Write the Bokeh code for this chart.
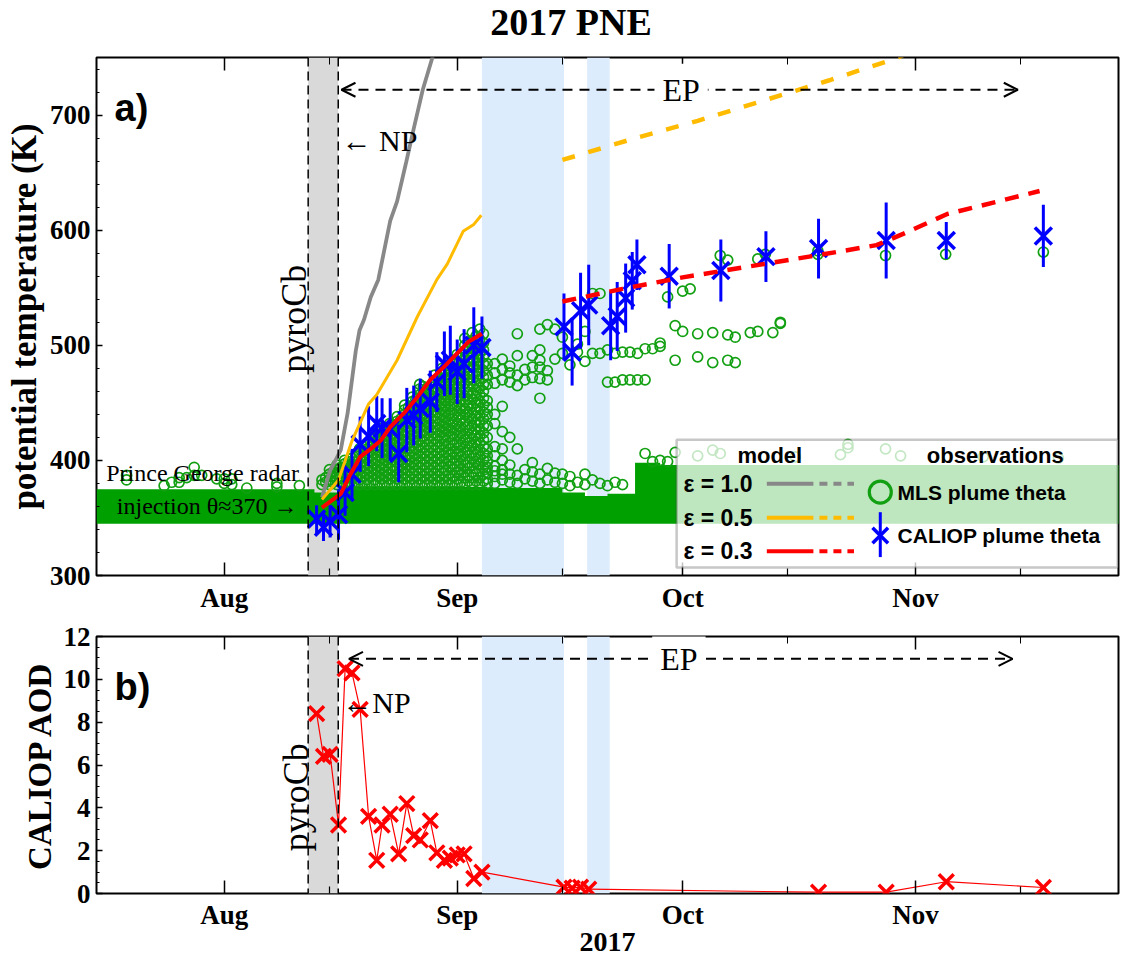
import math
import pandas as pd
from bokeh.plotting import figure
from bokeh.layouts import column
from bokeh.models import (Range1d, FixedTicker, DatetimeAxis, Span, Div,
                          BoxAnnotation, Label, Arrow, OpenHead)
from bokeh.embed import file_html
from bokeh.resources import INLINE

# ------------------------------------------------------------------ data
months = ["Aug", "Sep", "Oct", "Nov"]
month_starts = ["2017-08-01", "2017-09-01", "2017-10-01", "2017-11-01"]
mid_months = ["2017-08-15", "2017-09-15", "2017-10-15", "2017-11-15"]
theta_ticks = [300, 400, 500, 600, 700]
aod_ticks = [0, 2, 4, 6, 8, 10, 12]

pyrocb_period = ["2017-08-12 04:00", "2017-08-16 04:00"]
gap_periods = [["2017-09-04 07:00", "2017-09-15 05:00"],
               ["2017-09-18 07:00", "2017-09-21 07:00"]]

# MLS: densely populated theta band (step after each date)
band_date = ["2017-07-15", "2017-08-13", "2017-08-17", "2017-09-05", "2017-09-15",
             "2017-09-18", "2017-09-21", "2017-09-24 16:00", "2017-09-28", "2017-11-30"]
band_top = [375, 372, 377, 376, 372, 369, 371, 398, 396, 396]
band_bottom = 345

# MLS: individual samples above the dense band (time, thetas)
mls_day = [
    "2017-07-19", "2017-07-24", "2017-07-25", "2017-07-26", "2017-07-27", "2017-07-28",
    "2017-07-29", "2017-07-31", "2017-08-01", "2017-08-02", "2017-08-04", "2017-08-08",
    "2017-08-11",
    "2017-08-14 00:00", "2017-08-14 12:00", "2017-08-15 00:00", "2017-08-15 12:00",
    "2017-08-16 00:00", "2017-08-16 12:00", "2017-08-17 00:00", "2017-08-17 12:00",
    "2017-08-18 00:00", "2017-08-18 12:00", "2017-08-19 00:00", "2017-08-19 12:00",
    "2017-08-20 00:00", "2017-08-20 12:00", "2017-08-21 00:00", "2017-08-21 12:00",
    "2017-08-22 00:00", "2017-08-22 12:00", "2017-08-23 00:00", "2017-08-23 12:00",
    "2017-08-24 00:00", "2017-08-24 12:00", "2017-08-25 00:00", "2017-08-25 12:00",
    "2017-08-26 00:00", "2017-08-26 12:00", "2017-08-27 00:00", "2017-08-27 12:00",
    "2017-08-28 00:00", "2017-08-28 12:00", "2017-08-29 00:00", "2017-08-29 12:00",
    "2017-08-30 00:00", "2017-08-30 12:00", "2017-08-31 00:00", "2017-08-31 12:00",
    "2017-09-01 00:00", "2017-09-01 12:00", "2017-09-02 00:00", "2017-09-02 12:00",
    "2017-09-03 00:00", "2017-09-03 12:00", "2017-09-04 00:00", "2017-09-04 12:00",
    "2017-09-05", "2017-09-06", "2017-09-07", "2017-09-08", "2017-09-09", "2017-09-10",
    "2017-09-11", "2017-09-12", "2017-09-13", "2017-09-14",
    "2017-09-15", "2017-09-16", "2017-09-17", "2017-09-18", "2017-09-19", "2017-09-20",
    "2017-09-21", "2017-09-22", "2017-09-23", "2017-09-24", "2017-09-25", "2017-09-26",
    "2017-09-27", "2017-09-28", "2017-09-29", "2017-09-30",
    "2017-10-01", "2017-10-02", "2017-10-03", "2017-10-05", "2017-10-06", "2017-10-07",
    "2017-10-08", "2017-10-10", "2017-10-11", "2017-10-12", "2017-10-13", "2017-10-14",
    "2017-10-16", "2017-10-19", "2017-10-22", "2017-10-23", "2017-10-28", "2017-10-30",
    "2017-11-05", "2017-11-10", "2017-11-18", "2017-11-20",
]
mls_theta = [
    [387, 383], [378], [381], [385, 381], [385], [394, 387],
    [387], [384], [384, 380], [384, 379], [376], [380, 377],
    [378],
    [379, 383], [381, 385],
    [379, 383, 388, 392], [381, 386, 390],
    [379, 383, 388, 392, 396], [381, 386, 390, 394],
    [379, 384, 388, 393, 397, 400], [381, 386, 391, 395, 399],
    [379, 384, 388, 393, 397, 402], [381, 386, 390, 395, 399, 404],
    [379, 383, 388, 392, 397, 401, 406, 410], [381, 386, 390, 395, 399, 404, 408],
    [379, 383, 388, 392, 397, 401, 406, 410, 414], [381, 386, 390, 395, 399, 404, 408, 412, 416],
    [379, 383, 388, 392, 397, 401, 406, 410, 415, 419, 423],
    [381, 386, 390, 395, 399, 404, 408, 413, 417, 421],
    [379, 384, 388, 393, 397, 402, 406, 411, 415, 420, 424, 428],
    [381, 386, 390, 395, 400, 404, 409, 413, 418, 422, 426],
    [379, 384, 388, 393, 398, 402, 407, 411, 416, 420, 425, 429, 432],
    [381, 386, 391, 395, 400, 404, 409, 414, 418, 423, 427, 431],
    [379, 384, 388, 393, 398, 402, 407, 412, 416, 421, 425, 430, 434, 438],
    [381, 386, 391, 395, 400, 405, 409, 414, 418, 423, 428, 432, 436],
    [379, 384, 389, 393, 398, 403, 408, 412, 417, 422, 426, 431, 436, 440, 444, 448],
    [381, 386, 391, 396, 400, 405, 410, 415, 419, 424, 429, 433, 438, 442, 446],
    [379, 384, 389, 394, 398, 403, 408, 413, 418, 422, 427, 432, 437, 441, 446, 451, 455],
    [381, 386, 391, 396, 401, 405, 410, 415, 420, 425, 429, 434, 439, 444, 448, 453],
    [379, 384, 389, 394, 399, 404, 409, 413, 418, 423, 428, 433, 438, 443, 448, 452, 457, 462, 466],
    [381, 386, 391, 396, 401, 406, 411, 416, 421, 425, 430, 435, 440, 445, 450, 455, 459, 464],
    [379, 384, 389, 394, 399, 404, 409, 414, 419, 424, 429, 434, 439, 444, 449, 454, 459, 463],
    [381, 386, 391, 396, 401, 406, 411, 416, 421, 426, 431, 436, 441, 446, 451, 456, 461],
    [379, 384, 389, 394, 399, 404, 409, 414, 419, 424, 429, 434, 439, 444, 449, 454, 459, 464,
     469, 474],
    [381, 386, 391, 396, 401, 406, 411, 416, 421, 426, 431, 436, 441, 446, 451, 456, 461, 466, 471],
    [379, 384, 389, 394, 399, 404, 409, 414, 420, 425, 430, 435, 440, 445, 450, 455, 460, 465,
     470, 475, 480],
    [381, 386, 391, 397, 402, 407, 412, 417, 422, 427, 432, 437, 442, 447, 452, 457, 462, 467,
     472, 477],
    [379, 384, 389, 395, 400, 405, 410, 415, 421, 426, 431, 436, 441, 447, 452, 457, 462, 467,
     472, 478, 482, 486],
    [381, 386, 392, 397, 402, 407, 413, 418, 423, 428, 433, 439, 444, 449, 454, 459, 465, 470,
     475, 480, 484],
    [379, 384, 390, 395, 400, 406, 411, 416, 422, 427, 432, 438, 443, 448, 454, 459, 464, 470,
     475, 480, 486, 492],
    [381, 387, 392, 397, 403, 408, 413, 419, 424, 429, 435, 440, 445, 451, 456, 461, 467, 472,
     477, 483, 489],
    [379, 385, 390, 396, 401, 407, 412, 418, 423, 429, 434, 440, 445, 451, 456, 462, 467, 473,
     478, 484, 489, 495, 500, 506],
    [382, 387, 393, 398, 404, 409, 415, 420, 426, 431, 437, 442, 448, 453, 459, 464, 470, 475,
     481, 486, 492, 497, 503],
    [379, 385, 390, 396, 402, 407, 413, 419, 424, 430, 436, 441, 447, 453, 458, 464, 470, 475,
     481, 487, 492, 498, 504, 511],
    [382, 388, 393, 399, 405, 410, 416, 422, 427, 433, 439, 444, 450, 456, 461, 467, 473, 478,
     484, 490, 495, 501, 508],
    [379, 385, 391, 397, 403, 409, 415, 421, 427, 433, 439, 445, 451, 457, 463, 469, 475, 481,
     487, 493, 499, 505, 514],
    [382, 388, 394, 400, 406, 412, 418, 424, 430, 436, 442, 448, 454, 460, 466, 472, 478, 484,
     490, 496, 502, 510],
    [380, 384, 389, 394, 399, 404, 410, 420, 430, 440, 446, 452, 466, 474, 484],
    [380, 386, 391, 395, 404, 412, 432, 440, 467, 476, 484],
    [383, 388, 392, 400, 410, 425, 447, 470, 479, 488],
    [381, 388, 396, 420, 468, 476, 482],
    [380, 387, 410, 465, 474, 491, 510],
    [384, 392, 470, 479],
    [382, 390, 398, 472, 481, 491],
    [380, 388, 454, 471, 481, 487, 496, 514],
    [383, 393, 470, 478, 518],
    [381, 389, 488, 514],
    [380, 388, 493, 507],
    [378, 386, 483],
    [381, 494, 501],
    [379, 388, 486, 512],
    [383, 493, 545],
    [380, 493, 545],
    [378, 468, 496],
    [381, 468, 493],
    [379, 470, 494],
    [470, 494],
    [470, 493],
    [406, 470, 497],
    [399, 497],
    [400, 499, 502],
    [542, 399],
    [517, 487, 407],
    [512, 547],
    [549],
    [510, 490, 404],
    [511, 485, 409],
    [578, 406],
    [574, 509, 487],
    [507, 485],
    [511],
    [575, 512],
    [579],
    [511],
    [519, 520],
    [403],
    [579, 582],
    [405],
    [414, 411],
    [578, 410],
    [404],
    [579],
    [403],
    [581],
    [402],
]

# model: potential temperature of plume for several entrainment factors
m10_date = ["2017-08-14 00:00", "2017-08-15 02:00", "2017-08-16 12:00", "2017-08-17 10:00",
            "2017-08-18 12:00", "2017-08-19 00:00", "2017-08-19 14:00", "2017-08-20 12:00",
            "2017-08-21 12:00", "2017-08-23 02:00", "2017-08-24 00:00", "2017-08-25 05:00",
            "2017-08-26 05:00", "2017-08-27 10:00", "2017-08-28 19:00"]
m10_theta = [368, 391, 409, 441, 495, 513, 522, 542, 557, 608, 625, 659, 688, 722, 752]

m05_date = ["2017-08-14 00:00", "2017-08-16 05:00", "2017-08-18 00:00", "2017-08-20 05:00",
            "2017-08-21 07:00", "2017-08-24 00:00", "2017-08-26 17:00", "2017-08-29 07:00",
            "2017-08-30 17:00", "2017-09-01 19:00", "2017-09-03 05:00", "2017-09-04 05:00"]
m05_theta = [366, 383, 417, 449, 457, 487, 525, 557, 571, 599, 605, 613]
m05x_date = ["2017-09-15 00:00", "2017-09-24 05:00", "2017-10-03 00:00", "2017-10-11 12:00",
             "2017-10-20 10:00", "2017-10-29 07:00", "2017-10-31 00:00"]
m05x_theta = [661, 679, 695, 712, 730, 749, 754]

m03_date = ["2017-08-14 00:00", "2017-08-16 12:00", "2017-08-17 19:00", "2017-08-19 02:00",
            "2017-08-20 12:00", "2017-08-21 19:00", "2017-08-23 02:00", "2017-08-24 22:00",
            "2017-08-26 17:00", "2017-08-28 10:00", "2017-08-30 05:00", "2017-09-01 00:00",
            "2017-09-02 12:00", "2017-09-04 07:00"]
m03_theta = [359, 371, 388, 403, 410, 417, 429, 441, 455, 470, 481, 493, 503, 510]
m03x_date = ["2017-09-15 00:00", "2017-09-23 00:00", "2017-10-01 00:00", "2017-10-12 05:00",
             "2017-10-19 17:00", "2017-10-26 19:00", "2017-10-30 10:00", "2017-11-05 05:00",
             "2017-11-17 12:00"]
m03x_theta = [538, 549, 559, 571, 579, 587, 597, 614, 634]

# CALIOP plume theta with uncertainty
cal_date = ["2017-08-13 07:00", "2017-08-14 05:00", "2017-08-15 02:00", "2017-08-16 05:00",
            "2017-08-17 02:00", "2017-08-18 00:00", "2017-08-19 02:00", "2017-08-20 05:00",
            "2017-08-21 07:00", "2017-08-22 00:00", "2017-08-23 02:00", "2017-08-24 05:00",
            "2017-08-25 07:00", "2017-08-26 05:00", "2017-08-27 02:00", "2017-08-28 10:00",
            "2017-08-29 07:00", "2017-08-30 07:00", "2017-08-31 02:00", "2017-09-01 00:00",
            "2017-09-01 22:00", "2017-09-03 05:00", "2017-09-04 07:00",
            "2017-09-15 05:00", "2017-09-16 07:00", "2017-09-17 10:00", "2017-09-18 12:00",
            "2017-09-21 10:00", "2017-09-22 07:00", "2017-09-23 10:00", "2017-09-24 07:00",
            "2017-09-24 22:00", "2017-09-29 05:00", "2017-10-06 02:00", "2017-10-12 02:00",
            "2017-10-19 02:00", "2017-10-28 02:00", "2017-11-05 02:00", "2017-11-18 00:00"]
cal_theta = [349, 342, 347, 353, 372, 388, 414, 421, 432, 428, 427, 406, 435, 439, 445, 451,
             468, 484, 487, 477, 484, 500, 498,
             516, 494, 530, 535, 517, 525, 541, 556, 570, 560, 565, 577, 584, 591, 591, 595]
cal_err = [12, 12, 14, 22, 20, 22, 24, 26, 24, 26, 27, 25, 28, 26, 26, 27,
           26, 28, 30, 28, 30, 33, 27,
           29, 29, 33, 35, 30, 30, 30, 25, 22, 28, 27, 22, 26, 33, 16, 27]

# CALIOP AOD
aod_date = ["2017-08-13 07:00", "2017-08-14 05:00", "2017-08-15 02:00", "2017-08-16 05:00",
            "2017-08-17 02:00", "2017-08-18 00:00", "2017-08-19 02:00", "2017-08-20 05:00",
            "2017-08-21 07:00", "2017-08-22 00:00", "2017-08-23 02:00", "2017-08-24 05:00",
            "2017-08-25 07:00", "2017-08-26 05:00", "2017-08-27 02:00", "2017-08-28 10:00",
            "2017-08-29 07:00", "2017-08-30 07:00", "2017-08-31 02:00", "2017-09-01 00:00",
            "2017-09-01 22:00", "2017-09-03 05:00", "2017-09-04 07:00",
            "2017-09-15 05:00", "2017-09-16 07:00", "2017-09-17 10:00", "2017-09-18 12:00",
            "2017-10-19 02:00", "2017-10-28 02:00", "2017-11-05 02:00", "2017-11-18 00:00"]
aod_value = [8.4, 6.4, 6.5, 3.2, 10.5, 10.3, 8.6, 3.6, 1.55, 3.2, 3.7, 1.85, 4.2, 2.7, 2.5,
             3.4, 1.9, 1.55, 1.65, 1.8, 1.85, 0.7, 1.0,
             0.3, 0.25, 0.3, 0.2, 0.06, 0.06, 0.55, 0.28]

# ------------------------------------------------------------------ helpers
SERIF = "Liberation Serif"
SANS = "Liberation Sans"
GREEN = "#12a012"
BAND_GREEN = "#00a000"
BLUE = "#0000ff"
RED = "#ff0000"
GRAY = "#888888"
YELLOW = "#ffbb00"


def ms(s):
    return pd.Timestamp(s).value / 1e6


DAY = 86400000.0
X0 = ms("2017-07-15")
NDAYS = 136.0


def D(d):
    return X0 + d * DAY


def lab(p, x, y, text, size, font=SERIF, bold=False, **kw):
    p.add_layout(Label(x=x, y=y, text=text, text_font=font, text_font_size=size,
                       text_font_style="bold" if bold else "normal", text_color="black", **kw))


def style(p, yticks, yminor, ylabel, ylabel_size):
    p.xgrid.visible = False
    p.ygrid.visible = False
    p.outline_line_color = "black"
    p.outline_line_width = 2
    xt = FixedTicker(ticks=[ms(s) for s in month_starts], minor_ticks=[ms(s) for s in mid_months])
    yt = FixedTicker(ticks=yticks, minor_ticks=yminor)
    xa = p.below[0]
    xa.ticker = xt
    xa.major_label_overrides = {ms(s): m for s, m in zip(month_starts, months)}
    ya = p.left[0]
    ya.ticker = yt
    for ax in (xa, ya):
        ax.axis_line_color = None
        ax.major_tick_out = 0
        ax.minor_tick_out = 0
        ax.major_tick_line_width = 1.5
        ax.minor_tick_line_width = 1.2
        ax.major_label_text_font = SERIF
        ax.major_label_text_font_style = "bold"
        ax.major_label_text_font_size = "27px"
        ax.major_label_text_color = "black"
        ax.axis_label_text_font = SERIF
        ax.axis_label_text_font_style = "bold"
        ax.axis_label_text_color = "black"
    xa.major_tick_in = 13
    xa.minor_tick_in = 7
    xa.major_label_standoff = 7
    ya.major_tick_in = 6
    ya.minor_tick_in = 3
    ya.major_label_standoff = 6
    ya.axis_label = ylabel
    ya.axis_label_text_font_size = ylabel_size
    ya.axis_label_standoff = 3
    top = DatetimeAxis(ticker=xt, major_label_overrides={ms(s): "" for s in month_starts},
                       major_label_text_font_size="0px", major_label_standoff=0,
                       major_tick_in=13, minor_tick_in=7, major_tick_out=0, minor_tick_out=0,
                       major_tick_line_width=1.5, axis_line_color=None)
    p.add_layout(top, "above")
    # shaded periods
    p.add_layout(BoxAnnotation(left=ms(pyrocb_period[0]), right=ms(pyrocb_period[1]),
                               fill_color="#d9d9d9", fill_alpha=1, line_color=None, level="underlay"))
    for a, b in gap_periods:
        p.add_layout(BoxAnnotation(left=ms(a), right=ms(b), fill_color="#ddecfc",
                                   fill_alpha=1, line_color=None, level="underlay"))
    for s in pyrocb_period:
        p.add_layout(Span(location=ms(s), dimension="height", line_color="black",
                          line_width=1.5, line_dash="9 5"))
    return xa


x_range = Range1d(X0, X0 + NDAYS * DAY)

# ------------------------------------------------------------------ title
title = Div(text="2017 PNE", width=1120, height=40,
            styles={"font-family": "'Liberation Serif', serif", "font-size": "38px",
                    "font-weight": "bold", "color": "black", "text-align": "center",
                    "text-indent": "22px", "line-height": "44px", "margin": "0",
                    "white-space": "nowrap"})

# ------------------------------------------------------------------ panel a
p1 = figure(width=1120, height=575, x_axis_type="datetime", x_range=x_range,
            y_range=Range1d(300, 750), output_backend="svg", toolbar_location=None,
            min_border_left=96, min_border_right=2, min_border_top=17, min_border_bottom=40)
style(p1, theta_ticks, [v for v in range(320, 750, 20) if v % 100],
      "potential temperature (K)", "35px")

band_x = [ms(s) for s in band_date]
p1.varea_step(x=band_x, y1=[band_bottom] * len(band_x), y2=band_top, step_mode="after",
              fill_color=BAND_GREEN)
mls_x, mls_y = [], []
for day, col in zip(mls_day, mls_theta):
    for th in col:
        mls_x.append(ms(day))
        mls_y.append(th)
p1.scatter(mls_x, mls_y, marker="circle", size=10, fill_color=None, line_color=GREEN,
           line_width=1.7)

cx = [ms(s) for s in cal_date]
p1.segment(x0=cx, y0=[t - e for t, e in zip(cal_theta, cal_err)], x1=cx,
           y1=[t + e for t, e in zip(cal_theta, cal_err)], line_color=BLUE, line_width=3)
p1.scatter(cx, cal_theta, marker="x", size=24, line_color=BLUE, line_width=3.5)

p1.line([ms(s) for s in m10_date], m10_theta, line_color=GRAY, line_width=3.8)
p1.line([ms(s) for s in m05_date], m05_theta, line_color=YELLOW, line_width=3)
p1.line([ms(s) for s in m05x_date], m05x_theta, line_color=YELLOW, line_width=4.5, line_dash="13 14")
p1.line([ms(s) for s in m03_date], m03_theta, line_color=RED, line_width=4)
p1.line([ms(s) for s in m03x_date], m03x_theta, line_color=RED, line_width=4.5, line_dash="14 10")

p1.add_layout(Arrow(x_start=D(32.6), y_start=722, x_end=D(122.6), y_end=722,
                    start=OpenHead(size=14, line_width=2), end=OpenHead(size=14, line_width=2),
                    line_width=2, line_dash="10 7"))
lab(p1, D(77.8), 722, "EP", "32px", text_align="center", text_baseline="middle",
    background_fill_color="white", padding=8)
lab(p1, D(32.6), 678, "← NP", "30px", text_baseline="middle")
lab(p1, D(26.3), 523, "pyroCb", "36px", angle=math.pi / 2, text_align="center",
    text_baseline="middle")
lab(p1, D(1.3), 389, "Prince George radar", "24px", text_baseline="middle")
lab(p1, D(2.7), 360, "injection θ≈370 →", "24px", text_baseline="middle")
lab(p1, D(2.4), 706, "a)", "38px", font=SANS, bold=True, text_baseline="alphabetic")

# legend
p1.add_layout(BoxAnnotation(left=D(77.2), right=D(135.9), bottom=307, top=418,
                            fill_color="white", fill_alpha=0.75, line_color="#444444",
                            line_width=2.5))
for txt, xc in (("model", 89.6), ("observations", 119.6)):
    lab(p1, D(xc), 404, txt, "22px", font=SANS, bold=True, text_align="center",
        text_baseline="middle")
for txt, yy, col in (("ε = 1.0", 379.7, GRAY), ("ε = 0.5", 350.2, YELLOW), ("ε = 0.3", 321.1, RED)):
    lab(p1, D(78.1), yy, txt, "23px", font=SANS, bold=True, text_baseline="middle")
    p1.line([D(89.2), D(95.4)], [yy, yy], line_color=col, line_width=4, level="overlay")
    p1.line([D(96.2), D(100.8)], [yy, yy], line_color=col, line_width=4, line_dash="8 6",
            level="overlay")
p1.scatter([D(104.3)], [372.4], marker="circle", size=22, fill_color=None, line_color=GREEN,
           line_width=3.2, level="overlay")
p1.segment(x0=[D(104.3)], y0=[316], x1=[D(104.3)], y1=[355], line_color=BLUE, line_width=3,
           level="overlay")
p1.scatter([D(104.3)], [334.8], marker="x", size=22, line_color=BLUE, line_width=3.5,
           level="overlay")
lab(p1, D(106.6), 372.4, "MLS plume theta", "21px", font=SANS, bold=True, text_baseline="middle")
lab(p1, D(106.6), 334.8, "CALIOP plume theta", "21px", font=SANS, bold=True,
    text_baseline="middle")

# ------------------------------------------------------------------ panel b
p2 = figure(width=1120, height=341, x_axis_type="datetime", x_range=x_range,
            y_range=Range1d(0, 12), output_backend="svg", toolbar_location=None,
            min_border_left=96, min_border_right=2, min_border_top=21, min_border_bottom=63)
xa2 = style(p2, aod_ticks, [v / 2 for v in range(1, 24) if v % 4], "CALIOP AOD", "33px")
xa2.axis_label = "2017"
xa2.axis_label_text_font_size = "28px"
xa2.axis_label_standoff = 0
xa2.major_label_standoff = 6

ax_ = [ms(s) for s in aod_date]
p2.line(ax_, aod_value, line_color=RED, line_width=1.2)
p2.scatter(ax_, aod_value, marker="x", size=21, line_color=RED, line_width=3.5)
p2.add_layout(Arrow(x_start=D(33.6), y_start=10.96, x_end=D(121.9), y_end=10.96,
                    start=OpenHead(size=14, line_width=2), end=OpenHead(size=14, line_width=2),
                    line_width=2, line_dash="10 7"))
lab(p2, D(77.5), 10.96, "EP", "32px", text_align="center", text_baseline="middle",
    background_fill_color="white", padding=8)
lab(p2, D(32.7), 8.93, "←NP", "30px", text_baseline="middle")
lab(p2, D(26.5), 4.5, "pyroCb", "36px", angle=math.pi / 2, text_align="center",
    text_baseline="middle")
lab(p2, D(2.4), 9.64, "b)", "38px", font=SANS, bold=True, text_baseline="alphabetic")

layout = column(title, p1, p2, spacing=0)
open("out.html", "w").write(file_html(layout, INLINE))
